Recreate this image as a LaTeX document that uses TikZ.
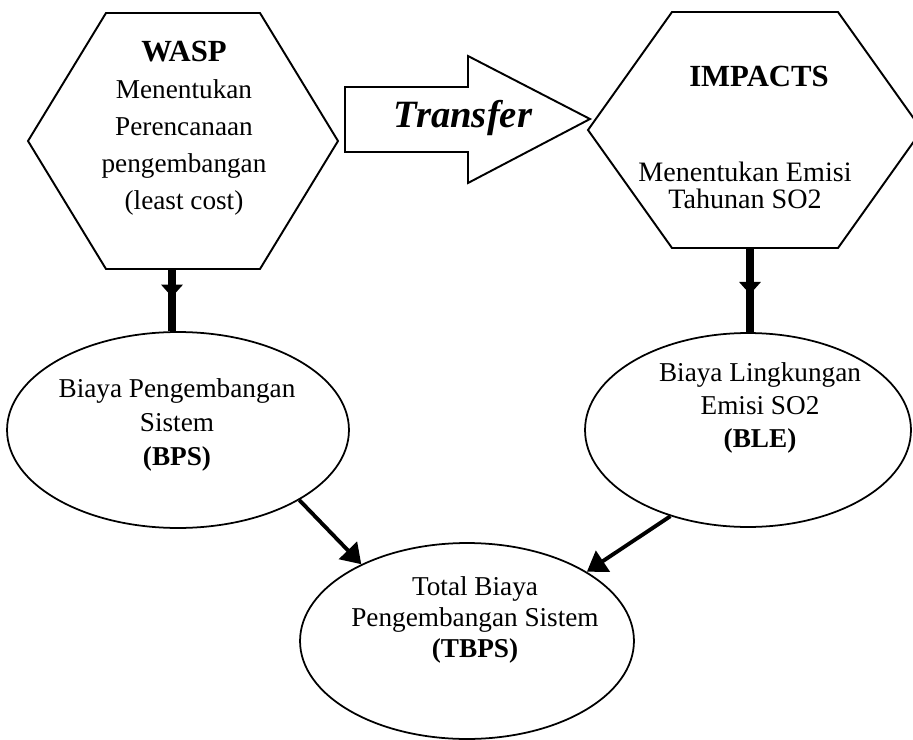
\documentclass[tikz,border=0pt]{standalone}
\usepackage{fontspec}
\setmainfont{Liberation Serif}
\usetikzlibrary{arrows.meta}
\usetikzlibrary{calc}
\usetikzlibrary{decorations.markings}
\usetikzlibrary{shapes.geometric}

\tikzset{
  hexline/.style={line width=1.1pt, line join=miter},
  oval/.style={ellipse, draw, line width=1pt, inner sep=0pt},
  txt/.style={align=center, inner sep=0pt, font=\fontsize{15.5}{19.5}\selectfont},
  title/.style={inner sep=0pt, font=\fontsize{17.5}{21}\selectfont\bfseries},
  stem/.style={line width=4pt, postaction={decorate},
    decoration={markings, mark=at position #1 with {\arrow{Triangle[width=12pt,length=7pt]}}}},
  stem/.default=0.5,
  feed/.style={line width=2.2pt, -{Triangle[width=14pt,length=11pt]}}
}

\begin{document}
\begin{tikzpicture}[x=0.02cm, y=-0.02cm]
        \newcommand{\hexhalfh}{128}
        \newcommand{\hexhalftop}{77}
        \useasboundingbox (0,0) rectangle (913,740);
        \coordinate (waspc) at (183,141);
        \coordinate (impc) at (755,130);
        \draw[hexline] (waspc) ++(-\hexhalftop,-\hexhalfh) -- ++(2*\hexhalftop,0) -- ++(78,\hexhalfh) -- ++(-78,\hexhalfh) -- ++(-2*\hexhalftop,0) -- ++(-78,-\hexhalfh) -- cycle;
        \draw[hexline] (impc) ++(-83,-118) -- ++(166,0) -- ++(84,118) -- ++(-84,118) -- ++(-166,0) -- ++(-84,-118) -- cycle;
        \draw[hexline] (345,87) -- (468,87) -- (468,56) -- (590,119) -- (468,183) -- (468,152) -- (345,152) -- cycle;
        \node[oval, minimum width=6.84cm, minimum height=3.92cm] (bps) at (178,430) {};
        \node[oval, minimum width=6.52cm, minimum height=3.88cm] (ble) at (748,430) {};
        \node[oval, minimum width=6.68cm, minimum height=3.92cm] (tbps) at (467,641) {};
        \node[txt, font=\fontsize{15.5}{21}\selectfont] (wasp) at (184,128) {{\fontsize{17.5}{21}\bfseries WASP}\\Menentukan\\Perencanaan\\pengembangan\\(least cost)};
        \node[title] (impacts) at (759,76) {IMPACTS};
        \node[txt, font=\fontsize{16}{15.5}\selectfont] (imptext) at (745,185) {Menentukan Emisi\\Tahunan SO2};
        \node[inner sep=0pt, font=\fontsize{22}{26}\selectfont\bfseries\itshape] (transfer) at (463,118) {Transfer};
        \node[txt] (bpstext) at (177,425) {Biaya Pengembangan\\Sistem\\{\bfseries (BPS)}};
        \node[txt, font=\fontsize{15.5}{19}\selectfont] (bletext) at (760,408) {Biaya Lingkungan\\Emisi SO2\\{\bfseries (BLE)}};
        \node[txt, font=\fontsize{15.5}{17.5}\selectfont] (tbpstext) at (475,620) {Total Biaya\\Pengembangan Sistem\\{\bfseries (TBPS)}};
        \coordinate (waspout) at (172,269);
        \coordinate (impout) at (750,248);
        \draw[stem=0.45] (waspout) -- (waspout |- bps.north);
        \draw[stem=0.55] (impout) -- (impout |- ble.north);
        \draw[feed] (bps.-30) -- (tbps.144);
        \draw[feed] (ble.-132) -- (tbps.30);
    \end{tikzpicture}
\end{document}
